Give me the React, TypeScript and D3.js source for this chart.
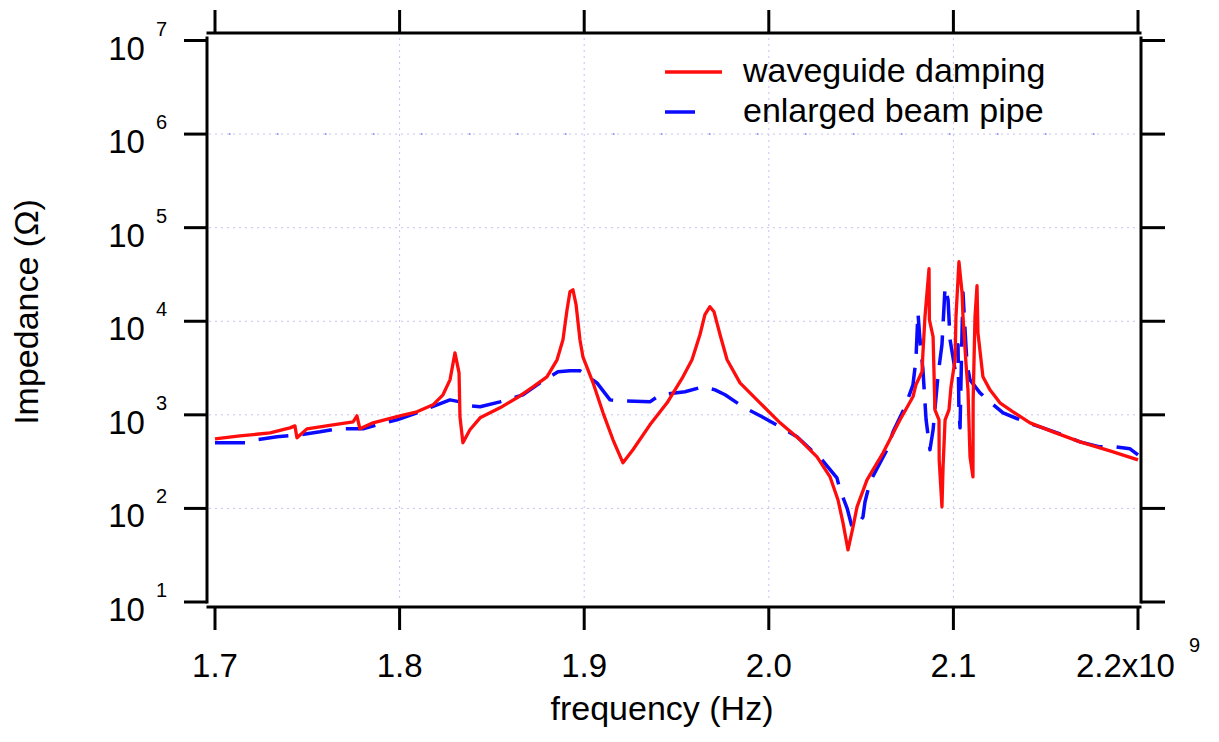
import React from 'react';
import * as d3 from 'd3';

// frequency in GHz (axis shows x10^9 Hz), impedance in Ohm
const redFreq = [
  1.7, 1.7135, 1.7298, 1.7406, 1.7433, 1.7444, 1.7498, 1.7639, 1.7748, 1.7769, 1.7785, 1.7856,
  1.8002, 1.8094, 1.8181, 1.8235, 1.8273, 1.83, 1.8322, 1.8327, 1.8343, 1.8381, 1.8436, 1.8544,
  1.8636, 1.8723, 1.8798, 1.8853, 1.8885, 1.8907, 1.8923, 1.8939, 1.8956, 1.8977, 1.8993, 1.9048,
  1.9102, 1.9156, 1.921, 1.9264, 1.9356, 1.9449, 1.9535, 1.9584, 1.9627, 1.9654, 1.9681, 1.9703,
  1.9736, 1.9774, 1.9844, 1.9952, 2.0061, 2.0169, 2.0261, 2.0332, 2.0375, 2.0402, 2.0429, 2.0456,
  2.0478, 2.0532, 2.0619, 2.0711, 2.0781, 2.0797, 2.083, 2.0835, 2.0846, 2.0868, 2.087, 2.089,
  2.09, 2.0922, 2.0923, 2.0938, 2.0944, 2.0955, 2.0976, 2.0987, 2.1009, 2.1014, 2.103, 2.1047,
  2.1052, 2.1068, 2.1079, 2.109, 2.1106, 2.1107, 2.1117, 2.1128, 2.1133, 2.116, 2.1198, 2.1252,
  2.1323, 2.1415, 2.154, 2.1686, 2.1848, 2.2,
];
const redZ = [
  553, 596, 641, 726, 762, 568, 708, 782, 841, 975, 708, 821,
  975, 1076, 1279, 1637, 2366, 4600, 2812, 953, 502, 692, 929, 1189,
  1521, 1991, 2547, 3873, 6339, 13280, 20700, 21700, 15000, 6340, 4170, 2198,
  1050, 541, 307, 423, 782, 1343, 2547, 3873, 7170, 11750, 14290, 12650,
  7170, 3873, 2198, 1343, 821, 541, 356, 217, 123, 70, 36, 63,
  104, 202, 393, 885, 1560, 2094, 2884, 4600, 11170, 36390, 10380, 6820,
  1130, 885, 330, 104, 278, 885, 1130, 1991, 3873, 11170, 43250, 20180,
  11170, 3597, 1849, 356, 217, 1445, 11170, 23990, 7530, 2547, 1849, 1343,
  1076, 821, 658, 514, 412, 330,
];

const blueFreq = [
  1.7, 1.7163, 1.7228, 1.7336, 1.746, 1.7569, 1.7661, 1.7802, 1.7878, 1.7986, 1.8094, 1.8203,
  1.8273, 1.8327, 1.8381, 1.8436, 1.8544, 1.8668, 1.8761, 1.8858, 1.8923, 1.8977, 1.9069, 1.914,
  1.9194, 1.9356, 1.9411, 1.9546, 1.9644, 1.9709, 1.9763, 1.986, 1.9963, 2.0072, 2.0153, 2.0288,
  2.0369, 2.0386, 2.0424, 2.0451, 2.0483, 2.051, 2.0521, 2.0548, 2.064, 2.0673, 2.0738, 2.0781,
  2.0797, 2.0808, 2.0819, 2.0835, 2.0852, 2.0873, 2.089, 2.0917, 2.0938, 2.0955, 2.0971, 2.0982,
  2.1009, 2.1025, 2.103, 2.1036, 2.1047, 2.1052, 2.1063, 2.1074, 2.109, 2.1144, 2.1198, 2.1269,
  2.1388, 2.1485, 2.1594, 2.1686, 2.1794, 2.1875, 2.1957, 2.2,
];
const blueZ = [
  502, 502, 541, 582, 611, 658, 708, 708, 782, 885, 1050, 1279,
  1445, 1377, 1248, 1218, 1377, 1637, 2198, 2884, 2958, 2958, 2198, 1445,
  1411, 1377, 1637, 1762, 1991, 1849, 1637, 1218, 953, 726, 582, 330,
  212, 158, 101, 63, 67, 81, 117, 192, 423, 658, 1218, 2094,
  3873, 12330, 6339, 3030, 885, 423, 692, 2680, 5610, 23400, 17000, 6339,
  3030, 5610, 1130, 726, 8110, 20180, 8110, 3428, 2366, 1718, 1377, 1050,
  841, 726, 611, 514, 455, 455, 433, 373,
];

const xTicks = [1.7, 1.8, 1.9, 2.0, 2.1, 2.2];
const xTickLabels = ['1.7', '1.8', '1.9', '2.0', '2.1', '2.2x10'];
const xExponent = '9';
const xGrid = [1.8, 1.9, 2.0, 2.1];
const yExponents = [1, 2, 3, 4, 5, 6, 7];
const yGridExponents = [2, 3, 4, 5, 6];

const seriesNames = ['waveguide damping', 'enlarged beam pipe'];

const FONT = '"Liberation Sans", Arial, Helvetica, sans-serif';
const RED = '#ff0d0d';
const BLUE = '#0a0aff';

const App = () => {
  const width = 1219;
  const height = 742;

  // plot region (data range) and the offset frame around it
  const left = 215, right = 1138, top = 40.5, bottom = 602;
  const axL = 207, axR = 1141, axT = 33, axB = 607;

  const x = d3.scaleLinear().domain([1.7, 2.2]).range([left, right]);
  const y = d3.scaleLog().domain([10, 1e7]).range([bottom, top]);

  const red = d3.zip(redFreq, redZ);
  const blue = d3.zip(blueFreq, blueZ);

  const line = d3.line<number[]>()
    .x(d => x(d[0]))
    .y(d => y(d[1]));

  const gridColor = '#c4c4f4';

  return (
    <svg
      width={width}
      height={height}
      style={{ position: 'absolute', left: 0, top: 0, background: '#fff' }}
      fontFamily={FONT}
    >
      {/* grid */}
      <g stroke={gridColor} strokeWidth={1} strokeDasharray="2,4">
        {yGridExponents.map(e => (
          <line key={'gy' + e} x1={axL + 2} x2={axR - 2} y1={y(10 ** e)} y2={y(10 ** e)} />
        ))}
        {xGrid.map(v => (
          <line key={'gx' + v} x1={x(v)} x2={x(v)} y1={axT + 5} y2={bottom} />
        ))}
      </g>
      <line
        x1={axL + 2} x2={axR - 2} y1={y(1e6)} y2={y(1e6)}
        stroke="#7a7ae8" strokeWidth={1.5} strokeDasharray="1.5,46.5" strokeDashoffset={-20}
      />

      {/* series */}
      <path d={line(blue) ?? ''} fill="none" stroke={BLUE} strokeWidth={3.5}
        strokeDasharray="30,14" strokeLinejoin="round" />
      <path d={line(red) ?? ''} fill="none" stroke={RED} strokeWidth={3.3}
        strokeLinejoin="round" />

      {/* frame */}
      <g stroke="#000" strokeWidth={3} strokeLinecap="square">
        <line x1={axL} x2={axL} y1={axT + 5} y2={bottom} />
        <line x1={axR} x2={axR} y1={axT + 5} y2={bottom} />
        <line x1={axL + 1} x2={axR - 1} y1={axT} y2={axT} />
        <line x1={axL + 1} x2={axR - 1} y1={axB} y2={axB} />
      </g>

      {/* ticks */}
      <g stroke="#000" strokeWidth={3}>
        {xTicks.map(v => (
          <React.Fragment key={'xt' + v}>
            <line x1={x(v)} x2={x(v)} y1={axB} y2={axB + 23} />
            <line x1={x(v)} x2={x(v)} y1={axT} y2={axT - 23} />
          </React.Fragment>
        ))}
        {yExponents.map(e => (
          <React.Fragment key={'yt' + e}>
            <line x1={axL} x2={axL - 23} y1={y(10 ** e)} y2={y(10 ** e)} />
            <line x1={axR} x2={axR + 24} y1={y(10 ** e)} y2={y(10 ** e)} />
          </React.Fragment>
        ))}
      </g>

      {/* x tick labels */}
      {xTicks.map((v, i) => (
        <text key={'xl' + v} x={x(v)} y={677} fontSize={33} textAnchor="middle" fill="#000">
          {xTickLabels[i]}
          {i === xTicks.length - 1 && (
            <tspan dx={14} dy={-25} fontSize={20}>{xExponent}</tspan>
          )}
        </text>
      ))}

      {/* y tick labels */}
      {yExponents.map(e => (
        <text key={'yl' + e} x={167} y={y(10 ** e) + 19} fontSize={33} textAnchor="end" fill="#000">
          10
          <tspan dx={11} dy={-24} fontSize={20}>{e}</tspan>
        </text>
      ))}

      {/* axis titles */}
      <text x={662} y={720} fontSize={34} textAnchor="middle" fill="#000">frequency (Hz)</text>
      <text
        transform={`translate(38, 312) rotate(-90)`}
        fontSize={34}
        textAnchor="middle"
        fill="#000"
      >
        Impedance (Ω)
      </text>

      {/* legend */}
      <line x1={665} x2={722} y1={72} y2={72} stroke={RED} strokeWidth={3.3} />
      <line x1={665} x2={695} y1={112} y2={112} stroke={BLUE} strokeWidth={3.5} />
      <text x={743} y={82} fontSize={34} fill="#000">{seriesNames[0]}</text>
      <text x={743} y={122} fontSize={34} fill="#000">{seriesNames[1]}</text>
    </svg>
  );
};

export default App;
